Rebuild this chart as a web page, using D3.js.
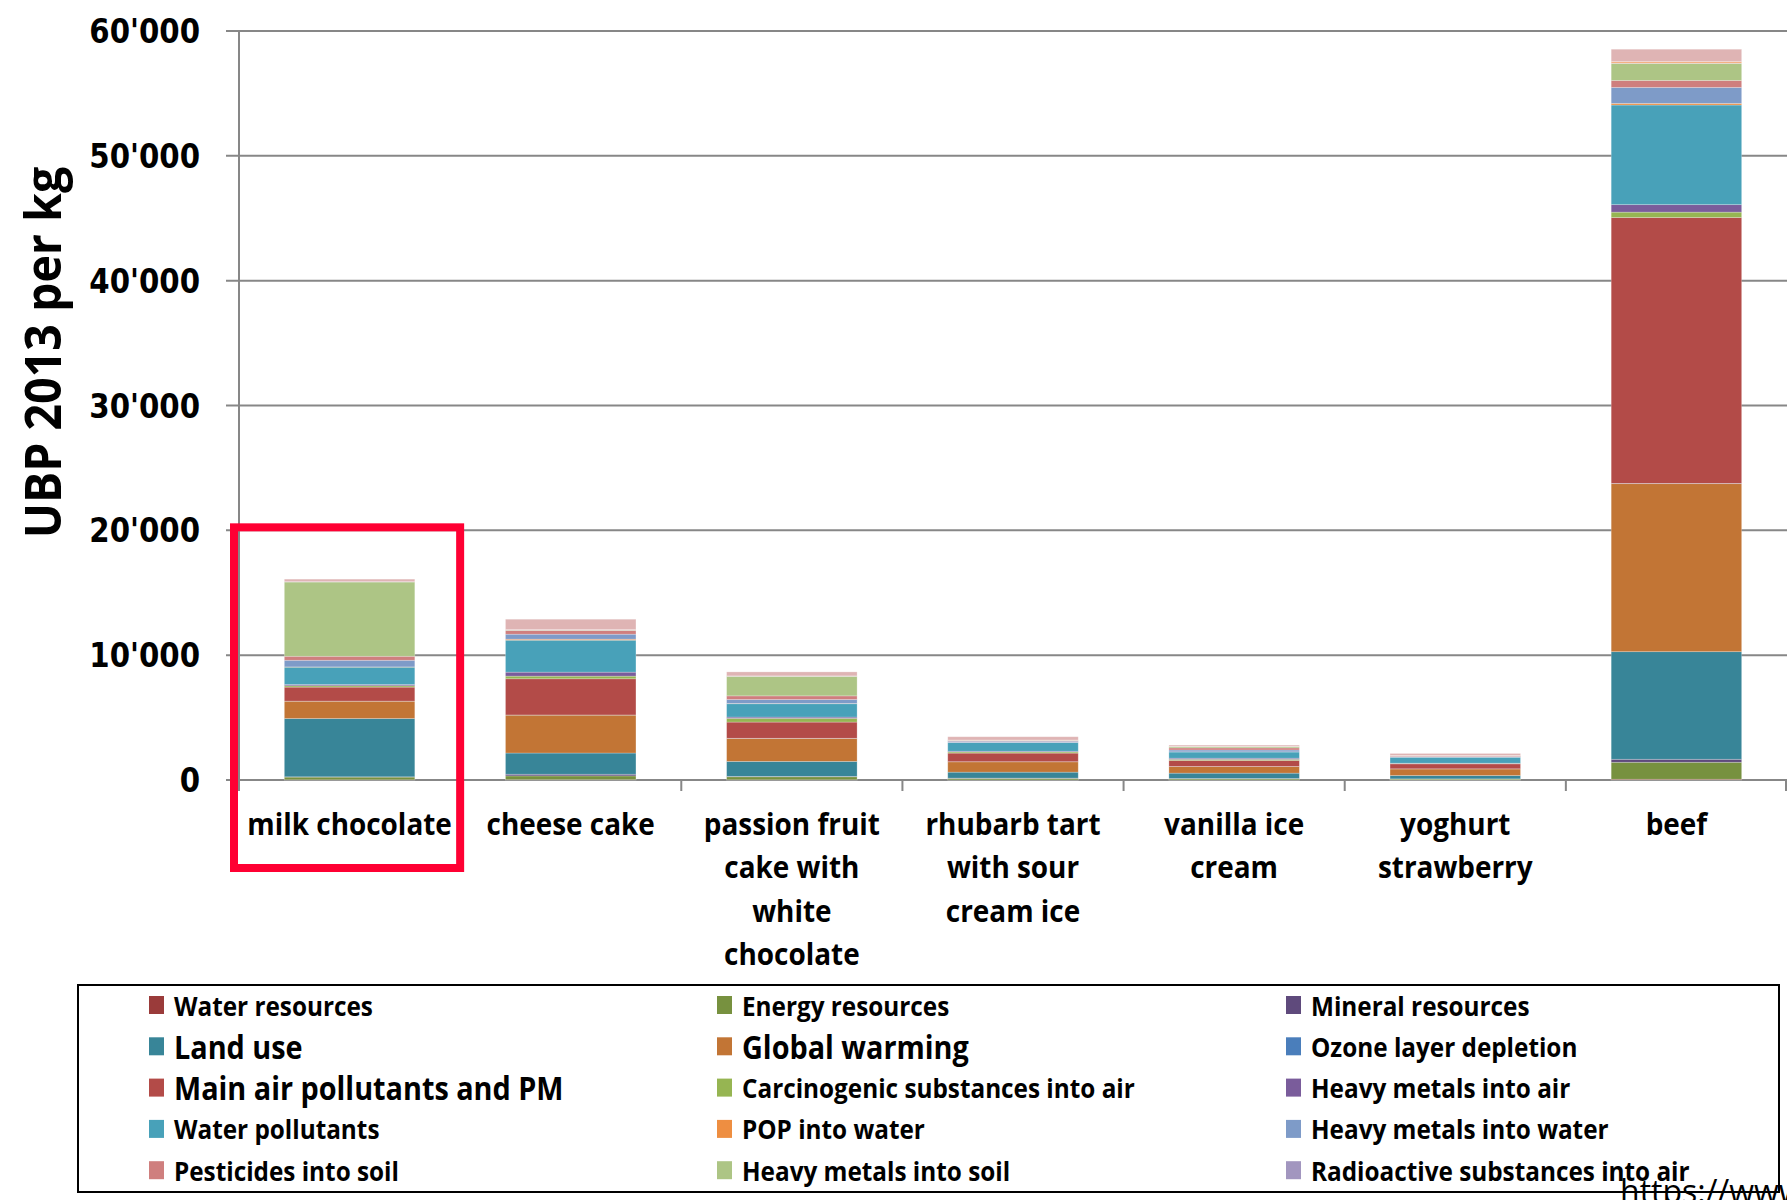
<!DOCTYPE html>
<html>
<head>
<meta charset="utf-8">
<script src="https://cdn.jsdelivr.net/npm/d3@7"></script>
<style>
  html, body { margin: 0; padding: 0; background: #fff; }
  svg { display: block; }
</style>
</head>
<body>
<svg id="chart" width="1787" height="1200"></svg>
<script>
// categories (order of the bars) and how their labels wrap
const categories = ["milk chocolate", "cheese cake", "passion fruit cake with white chocolate",
    "rhubarb tart with sour cream ice", "vanilla ice cream", "yoghurt strawberry", "beef"];
const labelLines = [
    ["milk chocolate"],
    ["cheese cake"],
    ["passion fruit", "cake with", "white", "chocolate"],
    ["rhubarb tart", "with sour", "cream ice"],
    ["vanilla ice", "cream"],
    ["yoghurt", "strawberry"],
    ["beef"]
];

// series values, UBP 2013 per kg, one value per category (stacked bottom -> top)
const waterResources   = [20, 30, 20, 10, 10, 10, 60];
const energyResources  = [215, 300, 240, 120, 90, 70, 1360];
const mineralResources = [20, 130, 30, 20, 20, 10, 240];
const landUse          = [4670, 1700, 1200, 480, 430, 270, 8620];
const globalWarming    = [1390, 3040, 1840, 830, 530, 530, 13460];
const ozoneDepletion   = [5, 10, 10, 5, 5, 5, 20];
const mainAirPM        = [1120, 2900, 1300, 690, 480, 400, 21300];
const carcinogenicAir  = [110, 210, 300, 90, 90, 30, 430];
const heavyMetalsAir   = [100, 320, 100, 60, 90, 20, 600];
const waterPollutants  = [1390, 2560, 1070, 690, 500, 480, 7980];
const popWater         = [20, 80, 20, 10, 10, 5, 130];
const heavyMetalsWater = [530, 400, 320, 100, 150, 50, 1280];
const pesticidesSoil   = [320, 300, 290, 60, 170, 50, 560];
const heavyMetalsSoil  = [5950, 30, 1560, 20, 100, 20, 1360];
const radioactiveAir   = [20, 20, 20, 10, 10, 5, 20];
const noise            = [10, 20, 20, 10, 10, 10, 130];
const radioactiveWaste = [200, 830, 320, 260, 100, 160, 990];

const seriesNames = ["Water resources", "Energy resources", "Mineral resources",
    "Land use", "Global warming", "Ozone layer depletion",
    "Main air pollutants and PM", "Carcinogenic substances into air", "Heavy metals into air",
    "Water pollutants", "POP into water", "Heavy metals into water",
    "Pesticides into soil", "Heavy metals into soil", "Radioactive substances into air",
    "Noise", "Radioactive waste to deposit"];
const seriesValues = [waterResources, energyResources, mineralResources, landUse,
    globalWarming, ozoneDepletion, mainAirPM, carcinogenicAir, heavyMetalsAir,
    waterPollutants, popWater, heavyMetalsWater, pesticidesSoil, heavyMetalsSoil,
    radioactiveAir, noise, radioactiveWaste];
const seriesColors = ["#9a3b3a", "#77913f", "#5f4a7c", "#388598", "#c27535", "#4a7ebb",
    "#b34b48", "#96b552", "#7a5c9b", "#48a1b9", "#ee8e41", "#7e9bc8",
    "#cf7f7e", "#adc585", "#a296bf", "#f4ad7c", "#dfb4b4"];

const yTicks = [0, 10000, 20000, 30000, 40000, 50000, 60000];
const legendCount = 15;   // only the first 15 entries fit in the legend box
const bigLegend = ["Land use", "Global warming", "Main air pollutants and PM"];

// stack table built from the arrays
const table = categories.map(function (c, i) {
    const row = { category: c };
    seriesNames.forEach(function (s, j) { row[s] = seriesValues[j][i]; });
    return row;
});
const stacked = d3.stack().keys(seriesNames)(table);

const svg = d3.select("#chart");
const X = d3.scaleBand().domain(categories).range([239, 1787]).padding(0);
const Y = d3.scaleLinear().domain([0, 60000]).range([780, 31]);
const barW = X.bandwidth() * 0.59;
const grey = "#878787";

function squeeze(sel, k) {
    sel.each(function () {
        const w = this.getComputedTextLength();
        d3.select(this).attr("textLength", w * k).attr("lengthAdjust", "spacingAndGlyphs");
    });
}

// gridlines (they also make the small ticks left of the axis)
svg.append("g").selectAll("line")
    .data(yTicks)
    .enter().append("line")
    .attr("x1", 226).attr("x2", 1787)
    .attr("y1", d => Y(d)).attr("y2", d => Y(d))
    .attr("stroke", grey).attr("stroke-width", 2);

// y axis line
svg.append("line")
    .attr("x1", X.range()[0]).attr("x2", X.range()[0])
    .attr("y1", Y(60000)).attr("y2", Y(0))
    .attr("stroke", grey).attr("stroke-width", 2);

// x tick marks at category boundaries
svg.append("g").selectAll("line")
    .data(categories.map(c => X(c)).concat([X.range()[1] - 1]))
    .enter().append("line")
    .attr("x1", d => d).attr("x2", d => d)
    .attr("y1", Y(0)).attr("y2", Y(0) + 11)
    .attr("stroke", grey).attr("stroke-width", 2);

// stacked bars
svg.append("g").selectAll("g")
    .data(stacked)
    .enter().append("g")
    .attr("fill", (d, i) => seriesColors[i])
    .selectAll("rect")
    .data(d => d)
    .enter().append("rect")
    .attr("x", d => X(d.data.category) + (X.bandwidth() - barW) / 2)
    .attr("width", barW)
    .attr("y", d => Y(d[1]))
    .attr("height", d => Math.max(0, Y(d[0]) - Y(d[1])))
    .attr("stroke", "#ffffff").attr("stroke-opacity", 0.3).attr("stroke-width", 0.8);

// y tick labels
const yLab = svg.append("g").selectAll("text")
    .data(yTicks)
    .enter().append("text")
    .attr("x", 200).attr("y", d => Y(d))
    .attr("text-anchor", "end").attr("dominant-baseline", "central")
    .attr("font-family", "DejaVu Sans").attr("font-weight", "bold").attr("font-size", 34)
    .attr("fill", "#000")
    .text(d => d3.format(",")(d).replace(/,/g, "'"));
squeeze(yLab, 0.86);

// y axis title
const yTitle = svg.append("text")
    .attr("transform", "translate(61," + ((Y(0) + Y(60000)) / 2 - 53) + ") rotate(-90)")
    .attr("text-anchor", "middle")
    .attr("font-family", "Open Sans").attr("font-weight", "bold").attr("font-size", 50)
    .attr("fill", "#000")
    .text("UBP 2013 per kg");
squeeze(yTitle, 0.93);

// category labels, one text per line
const catLab = svg.append("g").selectAll("text")
    .data(labelLines.flatMap((lines, i) => lines.map((t, j) => ({ c: categories[i], t: t, j: j }))))
    .enter().append("text")
    .attr("x", d => X(d.c) + X.bandwidth() / 2)
    .attr("y", d => 823 + d.j * 43.3)
    .attr("text-anchor", "middle").attr("dominant-baseline", "central")
    .attr("font-family", "Open Sans").attr("font-weight", "bold").attr("font-size", 31)
    .attr("fill", "#000")
    .text(d => d.t);
squeeze(catLab, 0.9);

// red highlight box around the first category
svg.append("rect")
    .attr("x", X.range()[0] - 5)
    .attr("y", Y(20000) - 3)
    .attr("width", X.bandwidth() + 5)
    .attr("height", 868 - Y(20000) + 3)
    .attr("fill", "none").attr("stroke", "#ff0033").attr("stroke-width", 8);

// legend
svg.append("rect")
    .attr("x", 78).attr("y", 985).attr("width", 1701).attr("height", 207)
    .attr("fill", "#fff").attr("stroke", "#000").attr("stroke-width", 2);

const legendCols = [149, 717, 1286];
const legend = svg.append("g").selectAll("g")
    .data(seriesNames.slice(0, legendCount))
    .enter().append("g")
    .attr("transform", (d, i) => "translate(" + legendCols[i % 3] + "," + (1005 + Math.floor(i / 3) * 41.3) + ")");
legend.append("rect")
    .attr("x", 0).attr("y", -9).attr("width", 15).attr("height", 18)
    .attr("fill", (d, i) => seriesColors[i]);
const legText = legend.append("text")
    .attr("x", 25).attr("y", 0)
    .attr("dominant-baseline", "central")
    .attr("font-family", "Open Sans").attr("font-weight", "bold")
    .attr("font-size", d => bigLegend.includes(d) ? 32 : 27)
    .attr("fill", "#000")
    .text(d => d);
squeeze(legText, 0.9);

// source url, cut off at the bottom edge
svg.append("text")
    .attr("x", 1620).attr("y", 1203)
    .attr("font-family", "Open Sans").attr("font-size", 32)
    .attr("fill", "#000")
    .text("https://www");
</script>
</body>
</html>
